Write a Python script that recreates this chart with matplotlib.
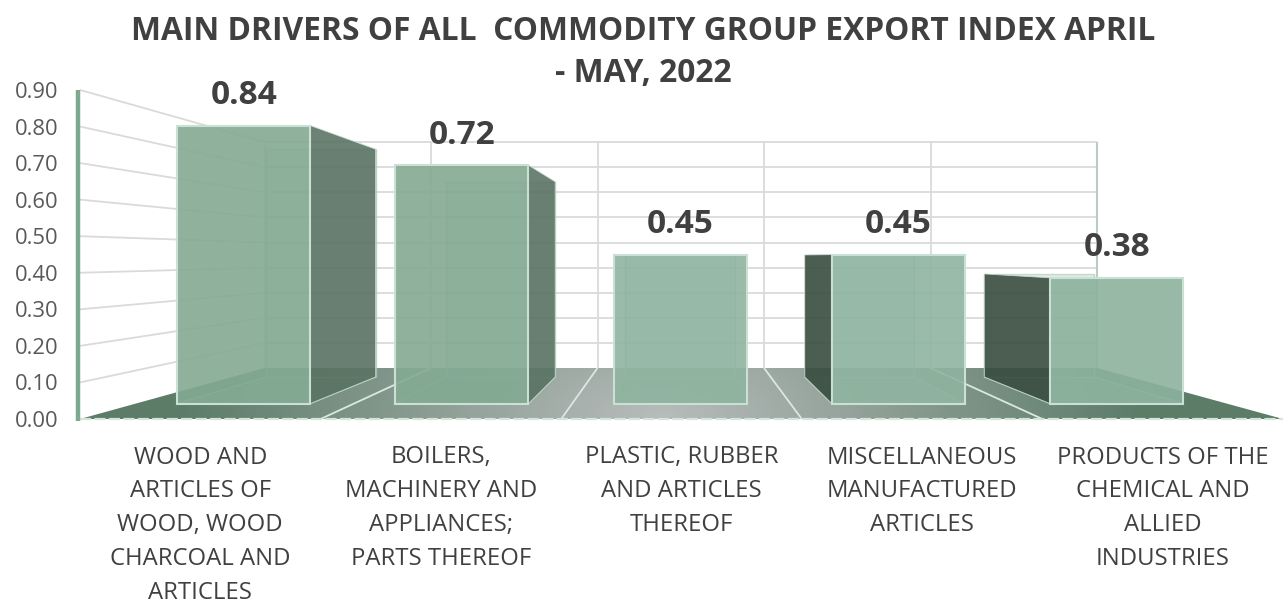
import numpy as np
import matplotlib
matplotlib.use("Agg")
import matplotlib.pyplot as plt
from matplotlib.patches import Polygon

categories = ["WOOD AND\nARTICLES OF\nWOOD, WOOD\nCHARCOAL AND\nARTICLES",
              "BOILERS,\nMACHINERY AND\nAPPLIANCES;\nPARTS THEREOF",
              "PLASTIC, RUBBER\nAND ARTICLES\nTHEREOF",
              "MISCELLANEOUS\nMANUFACTURED\nARTICLES",
              "PRODUCTS OF THE\nCHEMICAL AND\nALLIED\nINDUSTRIES"]
values = [0.84, 0.72, 0.45, 0.45, 0.38]
ticks = [0.0, 0.1, 0.2, 0.3, 0.4, 0.5, 0.6, 0.7, 0.8, 0.9]
title_lines = ["MAIN DRIVERS OF ALL  COMMODITY GROUP EXPORT INDEX APRIL", "- MAY, 2022"]

plt.rcParams['font.family'] = ['Open Sans', 'DejaVu Sans']

W, H = 1285, 603
VMAX = ticks[-1]
N = len(values)
T_FRONT, T_BACK = 0.3015, 0.824  # bar depth along the floor
GAP, BAR = 0.19, 0.61  # space left of bar inside a category, bar width


def project(u, v, t):
    # category position, value, depth (0 front, 1 back wall) -> pixels
    x0 = 80 + t * (264.5 - 80)
    w = 240.6 + t * (166.5 - 240.6)
    y0 = 419 + t * (368 - 419)
    unit = 365.6 + t * (251 - 365.6)
    return x0 + u * w, y0 - v * unit


def line(ax, a, b, **kw):
    pa, pb = project(*a), project(*b)
    ax.plot([pa[0], pb[0]], [pa[1], pb[1]], solid_capstyle="butt", **kw)


def face(ax, corners, **kw):
    ax.add_patch(Polygon([project(*c) for c in corners], closed=True, **kw))


fig = plt.figure(figsize=(W / 100, H / 100), dpi=100)
ax = fig.add_axes([0, 0, 1, 1])
ax.set_xlim(0, W)
ax.set_ylim(H, 0)
ax.axis("off")

grid = "#DADADA"
# walls
for v in ticks:
    if v > 0:
        line(ax, (0, v, 0), (0, v, 1), color=grid, lw=1.3, zorder=1)
        line(ax, (0, v, 1), (N, v, 1), color=grid, lw=1.3, zorder=1)
for u in range(N):
    line(ax, (u, 0, 1), (u, VMAX, 1), color=grid, lw=1.3, zorder=1)
line(ax, (N, 0, 1), (N, VMAX, 1), color="#B7CEC1", lw=1.5, zorder=1)

# floor with grey glow in the middle
yy, xx = np.mgrid[360:425, 70:1290]
d = np.clip(np.sqrt(((xx - 660) / 480.0) ** 2 + ((yy - 415) / 220.0) ** 2), 0, 1)[..., None]
glow = np.array([184, 188, 188]) * (1 - d) + np.array([92, 124, 104]) * d
img = ax.imshow(glow.astype(np.uint8), extent=(70, 1290, 425, 360), aspect="auto", zorder=2)
floor = Polygon([project(0, 0, 0), project(N, 0, 0), project(N, 0, 1), project(0, 0, 1)],
                closed=True, transform=ax.transData, fc="none", ec="none")
ax.add_patch(floor)
img.set_clip_path(floor)
ax.set_xlim(0, W)
ax.set_ylim(H, 0)
for u in range(1, N):
    line(ax, (u, 0, 0), (u, 0, 1), color="#DCE7E0", lw=1.3, zorder=3)
line(ax, (0, 0, 0), (N, 0, 0), color="#D3E4DA", lw=1.6, ls=(0, (5, 1.5)), zorder=3)

# value axis
fx, fy0 = project(0, 0, 0)
_, fy1 = project(0, VMAX, 0)
ax.plot([fx - 2.5, fx - 2.5], [fy0 + 2, fy1], color="#7DA990", lw=3.2, solid_capstyle="butt", zorder=4)

# bars
front_cols = ["#84AA93", "#84AA93", "#8FB4A0", "#8FB4A0", "#8CB29D"]
edge = "#CBE0D4"
for i, val in enumerate(values):
    a, b = i + GAP, i + GAP + BAR
    z = 5 + i
    col = front_cols[i]
    # back and bottom of the box, seen through the front
    face(ax, [(a, 0, T_BACK), (b, 0, T_BACK), (b, val, T_BACK), (a, val, T_BACK)],
         fc=col, ec="none", alpha=0.25, zorder=z)
    face(ax, [(a, 0, T_FRONT), (b, 0, T_FRONT), (b, 0, T_BACK), (a, 0, T_BACK)],
         fc=col, ec="none", alpha=0.5, zorder=z)
    for u in (a, b):
        line(ax, (u, 0, T_BACK), (u, val, T_BACK), color="#A9C6B6", lw=1, alpha=0.8, zorder=z)
        line(ax, (u, 0, T_FRONT), (u, 0, T_BACK), color="#A9C6B6", lw=1, alpha=0.8, zorder=z)
    line(ax, (a, 0, T_BACK), (b, 0, T_BACK), color="#A9C6B6", lw=1, alpha=0.8, zorder=z)
    line(ax, (a, val, T_BACK), (b, val, T_BACK), color="#A9C6B6", lw=1, alpha=0.5, zorder=z)
    # the side that sticks out from behind the front
    if project(b, 0, T_BACK)[0] > project(b, 0, T_FRONT)[0]:
        face(ax, [(b, 0, T_FRONT), (b, 0, T_BACK), (b, val, T_BACK), (b, val, T_FRONT)],
             fc="#587161", ec=edge, lw=0.6, alpha=0.88, zorder=z)
    if project(a, 0, T_BACK)[0] < project(a, 0, T_FRONT)[0]:
        face(ax, [(a, 0, T_FRONT), (a, 0, T_BACK), (a, val, T_BACK), (a, val, T_FRONT)],
             fc="#37493D", ec=edge, lw=0.6, alpha=0.88, zorder=z)
    face(ax, [(a, 0, T_FRONT), (b, 0, T_FRONT), (b, val, T_FRONT), (a, val, T_FRONT)],
         fc=col, ec="none", alpha=0.9, zorder=z)
    face(ax, [(a, 0, T_FRONT), (b, 0, T_FRONT), (b, val, T_FRONT), (a, val, T_FRONT)],
         fc="none", ec=edge, lw=1.5, zorder=z)
    px, py = project(i + GAP + BAR / 2, val, T_FRONT)
    ax.text(px, py - 30, f"{val:.2f}", ha="center", va="center", fontsize=24,
            fontweight="bold", color="#404040", zorder=20)

# tick labels
for v in ticks:
    px, py = project(0, v, 0)
    ax.text(58, py + 2.5, f"{v:.2f}", ha="right", va="center", fontsize=15.8, color="#595959", zorder=20)

for i, cat in enumerate(categories):
    px, _ = project(i + 0.5, 0, 0)
    ax.text(px, 445.5, cat, ha="center", va="top", fontsize=17.2, color="#404040",
            linespacing=1.55, zorder=20)

for line_y, txt in zip((31, 74), title_lines):
    ax.text(643, line_y, txt, ha="center", va="center", fontsize=22.9, fontweight="bold",
            color="#404040", zorder=20)

fig.savefig("out.png", dpi=100)
